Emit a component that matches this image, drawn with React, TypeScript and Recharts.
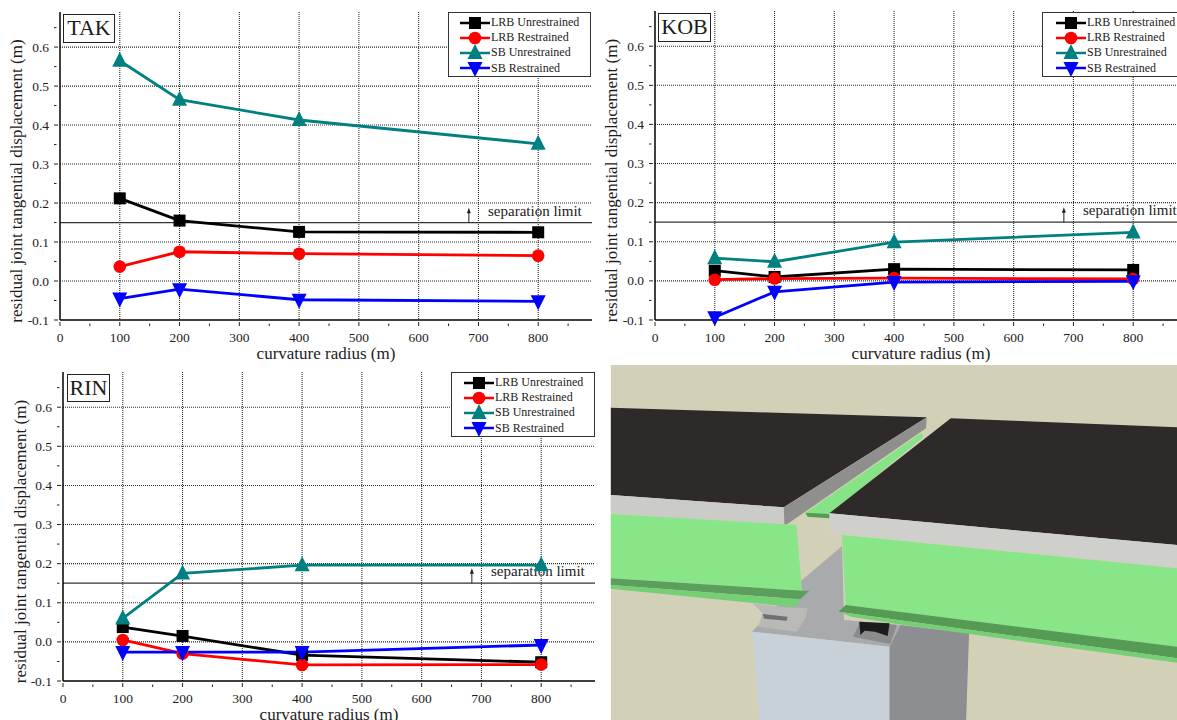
import { LineChart, Line, XAxis, YAxis, CartesianGrid, Legend, ReferenceLine, ReferenceDot } from 'recharts';

const radii = [100, 200, 400, 800];

const takLrbUnrestrained = [0.212, 0.155, 0.126, 0.125];
const takLrbRestrained = [0.037, 0.075, 0.07, 0.065];
const takSbUnrestrained = [0.565, 0.465, 0.413, 0.352];
const takSbRestrained = [-0.045, -0.021, -0.048, -0.052];

const kobLrbUnrestrained = [0.026, 0.01, 0.03, 0.028];
const kobLrbRestrained = [0.003, 0.006, 0.007, 0.005];
const kobSbUnrestrained = [0.058, 0.049, 0.099, 0.124];
const kobSbRestrained = [-0.093, -0.028, -0.003, -0.001];

const rinLrbUnrestrained = [0.038, 0.015, -0.034, -0.052];
const rinLrbRestrained = [0.005, -0.03, -0.059, -0.058];
const rinSbUnrestrained = [0.06, 0.175, 0.196, 0.196];
const rinSbRestrained = [-0.026, -0.026, -0.026, -0.008];

const xTicks = [0, 50, 100, 150, 200, 250, 300, 350, 400, 450, 500, 550, 600, 650, 700, 750, 800, 850];
const xGrid = [100, 200, 300, 400, 500, 600, 700, 800];
const yTicks = [-0.1, -0.05, 0, 0.05, 0.1, 0.15, 0.2, 0.25, 0.3, 0.35, 0.4, 0.45, 0.5, 0.55, 0.6, 0.65];
const yGrid = [0, 0.1, 0.2, 0.3, 0.4, 0.5, 0.6];

const SEPARATION_LIMIT = 0.15;
const FONT = '"Liberation Serif", serif';
const INK = '#1c1c1c';

const makeRows = (a: number[], b: number[], c: number[], d: number[]) =>
  radii.map((radius, i) => ({ radius, lrbU: a[i], lrbR: b[i], sbU: c[i], sbR: d[i] }));

const series = [
  { key: 'lrbU', name: 'LRB Unrestrained', color: '#000000' },
  { key: 'lrbR', name: 'LRB Restrained', color: '#ff0000' },
  { key: 'sbU', name: 'SB Unrestrained', color: '#008080' },
  { key: 'sbR', name: 'SB Restrained', color: '#0000ff' },
];

function Marker({ type, cx, cy, color }: { type: string; cx: number; cy: number; color: string }) {
  if (type === 'lrbU') return <rect x={cx - 6} y={cy - 6} width={12} height={12} fill={color} />;
  if (type === 'lrbR') return <circle cx={cx} cy={cy} r={6.3} fill={color} />;
  if (type === 'sbU') return <path d={`M${cx} ${cy - 9}L${cx + 7.5} ${cy + 6}L${cx - 7.5} ${cy + 6}Z`} fill={color} />;
  return <path d={`M${cx} ${cy + 9}L${cx + 7.5} ${cy - 6}L${cx - 7.5} ${cy - 6}Z`} fill={color} />;
}

function LegendBox({ payload, lineWidth, lineLeft }: any) {
  return (
    <div style={{ height: '100%', boxSizing: 'border-box', background: '#fff', border: '1.5px solid #333', paddingTop: 2, fontFamily: FONT, fontSize: 12, color: INK }}>
      {(payload || []).map((entry: any) => (
        <div key={entry.dataKey} style={{ display: 'flex', alignItems: 'center', height: 15.2, whiteSpace: 'nowrap' }}>
          <svg width={lineWidth} height={16} style={{ marginLeft: lineLeft, marginRight: 1, overflow: 'visible', flex: 'none' }}>
            <line x1={0} x2={lineWidth} y1={8} y2={8} stroke={entry.color} strokeWidth={2.5} />
            <Marker type={entry.dataKey} cx={lineWidth / 2} cy={8} color={entry.color} />
          </svg>
          {entry.value}
        </div>
      ))}
    </div>
  );
}

const isMajorX = (v: number) => v % 100 === 0;
const isMajorY = (v: number) => Math.abs(v * 10 - Math.round(v * 10)) < 1e-6;

function BottomTick({ x, y, payload }: any) {
  const major = isMajorX(payload.value);
  return (
    <g>
      <line x1={x} x2={x} y1={y} y2={y - (major ? 4 : 2.5)} stroke="#222" strokeWidth={1} />
      {major && (
        <text x={x} y={y + 15.5} textAnchor="middle" fontFamily={FONT} fontSize={13.5} fill={INK}>
          {payload.value}
        </text>
      )}
    </g>
  );
}

function LeftTick({ x, y, payload }: any) {
  const major = isMajorY(payload.value);
  return (
    <g>
      <line x1={x} x2={x + (major ? 4 : 2.5)} y1={y} y2={y} stroke="#222" strokeWidth={1} />
      {major && (
        <text x={x - 5} y={y + 4.5} textAnchor="end" fontFamily={FONT} fontSize={13.5} fill={INK}>
          {payload.value.toFixed(1)}
        </text>
      )}
    </g>
  );
}

function TopTick({ x, y, payload }: any) {
  return <line x1={x} x2={x} y1={y} y2={y + (isMajorX(payload.value) ? 4 : 2.5)} stroke="#333" strokeWidth={1} />;
}

function RightTick({ x, y, payload }: any) {
  return <line x1={x} x2={x - (isMajorY(payload.value) ? 4 : 2.5)} y1={y} y2={y} stroke="#333" strokeWidth={1} />;
}

function ArrowHead({ cx, cy }: any) {
  return <path d={`M${cx} ${cy - 2}L${cx + 2} ${cy + 3.5}L${cx - 2} ${cy + 3.5}Z`} fill="#222" />;
}

function LimitText({ cx, cy }: any) {
  return (
    <text x={cx} y={cy + 5} fontFamily={FONT} fontSize={15} fill={INK}>
      separation limit
    </text>
  );
}

interface PanelProps {
  title: string;
  rows: any[];
  left: number;
  top: number;
  plotTop: number;
  height: number;
  box: { left: number; top: number; width: number; height: number };
  legend: { left: number; top: number; width: number; height: number; lineLeft: number };
  labelLeft: number;
}

function Panel({ title, rows, left, top, plotTop, height, box, legend, labelLeft }: PanelProps) {
  return (
    <div style={{ position: 'absolute', left, top, width: 600, height }}>
      <LineChart width={600} height={height} data={rows} margin={{ top: plotTop, right: 8, bottom: 0, left: 0 }}>
        <CartesianGrid stroke="#2a2a2a" strokeWidth={1.1} strokeDasharray="1 1" horizontalValues={yGrid} verticalValues={xGrid} />
        <XAxis
          dataKey="radius"
          type="number"
          domain={[0, 890]}
          ticks={xTicks}
          interval={0}
          height={45}
          tickLine={false}
          tickMargin={0}
          tick={<BottomTick />}
          axisLine={{ stroke: '#000', strokeWidth: 1.5 }}
          label={{ value: 'curvature radius (m)', position: 'insideBottom', offset: 6, fontFamily: FONT, fontSize: 17, fill: INK }}
        />
        <XAxis
          xAxisId="top"
          orientation="top"
          dataKey="radius"
          type="number"
          domain={[0, 890]}
          ticks={xTicks}
          interval={0}
          height={0}
          tickLine={false}
          tickMargin={0}
          tick={<TopTick />}
          axisLine={{ stroke: '#555', strokeWidth: 2 }}
        />
        <YAxis
          type="number"
          domain={[-0.1, 0.69]}
          ticks={yTicks}
          interval={0}
          width={60}
          tickLine={false}
          tickMargin={0}
          tick={<LeftTick />}
          axisLine={{ stroke: '#000', strokeWidth: 1.5 }}
          label={{ value: 'residual joint tangential displacement (m)', angle: -90, position: 'insideLeft', offset: labelLeft, dy: 15, style: { textAnchor: 'middle' }, fontFamily: FONT, fontSize: 17, fill: INK }}
        />
        <YAxis
          yAxisId="right"
          orientation="right"
          type="number"
          domain={[-0.1, 0.69]}
          ticks={yTicks}
          interval={0}
          width={0}
          tickLine={false}
          tickMargin={0}
          tick={<RightTick />}
          axisLine={{ stroke: '#555', strokeWidth: 2 }}
        />
        <ReferenceLine y={SEPARATION_LIMIT} stroke="#333" strokeWidth={1.3} />
        <ReferenceLine segment={[{ x: 684, y: SEPARATION_LIMIT }, { x: 684, y: 0.18 }]} stroke="#222" strokeWidth={1} />
        <ReferenceDot x={684} y={0.183} shape={<ArrowHead />} />
        <ReferenceDot x={716} y={0.18} shape={<LimitText />} />
        {series.map((s) => (
          <Line
            key={s.key}
            dataKey={s.key}
            name={s.name}
            stroke={s.color}
            strokeWidth={2.8}
            type="linear"
            isAnimationActive={false}
            dot={(p: any) => <Marker key={p.index} type={s.key} cx={p.cx} cy={p.cy} color={s.color} />}
          />
        ))}
        <Legend
          layout="vertical"
          align="center"
          verticalAlign="middle"
          itemSorter={null}
          wrapperStyle={{ left: legend.left, top: legend.top, width: legend.width, height: legend.height, bottom: 'auto', right: 'auto' }}
          content={(props: any) => <LegendBox payload={props.payload} lineWidth={30} lineLeft={legend.lineLeft} />}
        />
      </LineChart>
      <div
        style={{
          position: 'absolute',
          left: box.left,
          top: box.top,
          width: box.width,
          height: box.height,
          boxSizing: 'border-box',
          background: '#fff',
          border: '1.3px solid #222',
          fontFamily: FONT,
          fontSize: 22,
          color: INK,
          textAlign: 'center',
          lineHeight: `${box.height - 3}px`,
        }}
      >
        {title}
      </div>
    </div>
  );
}

// bridge rendering in the lower right, coordinates in the viewBox of the drawing
const sceneShapes = [
  { fill: '#a9aaac', d: 'M650 558L655 780L810 795L780 860L403 815L540 660Z' },
  { fill: '#c8d0d8', d: 'M403 815L780 860L780 1080L425 1080Z' },
  { fill: '#8c8e91', d: 'M780 860L810 795L998 820L990 1080L780 1080Z' },
  { fill: '#86e486', d: 'M868 218L872 232L618 462L545 462Z' },
  { fill: '#559a55', d: 'M550 458L615 462L615 475L555 470Z' },
  { fill: '#2e2a2b', d: 'M16 143L882 172L490 442L16 405Z' },
  { fill: '#cbcbc8', d: 'M16 405L490 442L490 498L16 460Z' },
  { fill: '#8f8f8d', d: 'M490 442L882 172L880 205L492 498Z' },
  { fill: '#88e688', d: 'M16 462L525 495L540 692L16 655Z' },
  { fill: '#5c9f5c', d: 'M16 655L540 692L560 692L535 718L16 675Z' },
  { fill: '#74cf74', d: 'M16 675L535 718L522 742L16 686Z' },
  { fill: '#b9b9b7', d: 'M405 730L495 742L555 745L550 775L525 815L420 800L432 760Z' },
  { fill: '#6f7072', d: 'M432 762L500 770L498 782L436 776Z' },
  { fill: '#8a8b8d', d: 'M680 830L700 785L800 795L782 852Z' },
  { fill: '#1e1e1e', d: 'M697 785L780 790L775 828L740 815L712 812L700 825Z' },
  { fill: '#2e2a2b', d: 'M948 175L1568 202L1568 555L615 460Z' },
  { fill: '#cfcfcc', d: 'M615 460L1568 555L1568 625L620 520Z' },
  { fill: '#88e688', d: 'M650 525L1568 625L1568 860L660 735Z' },
  { fill: '#559a55', d: 'M660 735L1568 860L1568 895L640 755Z' },
  { fill: '#74cf74', d: 'M640 755L1568 895L1568 908L800 792L675 770Z' },
];

function BridgeScene() {
  return (
    <svg
      width={572}
      height={360}
      viewBox="0 0 1568 1080"
      preserveAspectRatio="none"
      style={{ position: 'absolute', left: 605, top: 360 }}
    >
      <defs>
        <filter id="soft" x="0" y="0" width="100%" height="100%">
          <feGaussianBlur stdDeviation="1.6" />
        </filter>
      </defs>
      <rect x={16} y={15} width={1552} height={1065} fill="#d3d0b8" />
      <g filter="url(#soft)">
        {sceneShapes.map((s, i) => (
          <path key={i} d={s.d} fill={s.fill} />
        ))}
      </g>
    </svg>
  );
}

export default function App() {
  return (
    <div style={{ position: 'fixed', left: 0, top: 0, width: 1177, height: 720, overflow: 'hidden', background: '#fff' }}>
      <Panel
        title="TAK"
        rows={makeRows(takLrbUnrestrained, takLrbRestrained, takSbUnrestrained, takSbRestrained)}
        left={0}
        top={0}
        plotTop={12}
        height={365}
        box={{ left: 63, top: 14, width: 52, height: 29 }}
        legend={{ left: 448, top: 12, width: 143, height: 65, lineLeft: 11 }}
        labelLeft={16}
      />
      <Panel
        title="KOB"
        rows={makeRows(kobLrbUnrestrained, kobLrbRestrained, kobSbUnrestrained, kobSbRestrained)}
        left={595}
        top={0}
        plotTop={11}
        height={365}
        box={{ left: 63, top: 13, width: 53, height: 29 }}
        legend={{ left: 447, top: 12, width: 150, height: 65, lineLeft: 13 }}
        labelLeft={16}
      />
      <Panel
        title="RIN"
        rows={makeRows(rinLrbUnrestrained, rinLrbRestrained, rinSbUnrestrained, rinSbRestrained)}
        left={3}
        top={360}
        plotTop={12}
        height={366}
        box={{ left: 64, top: 14, width: 43, height: 28 }}
        legend={{ left: 448, top: 12, width: 144, height: 65, lineLeft: 12 }}
        labelLeft={17}
      />
      <BridgeScene />
    </div>
  );
}
